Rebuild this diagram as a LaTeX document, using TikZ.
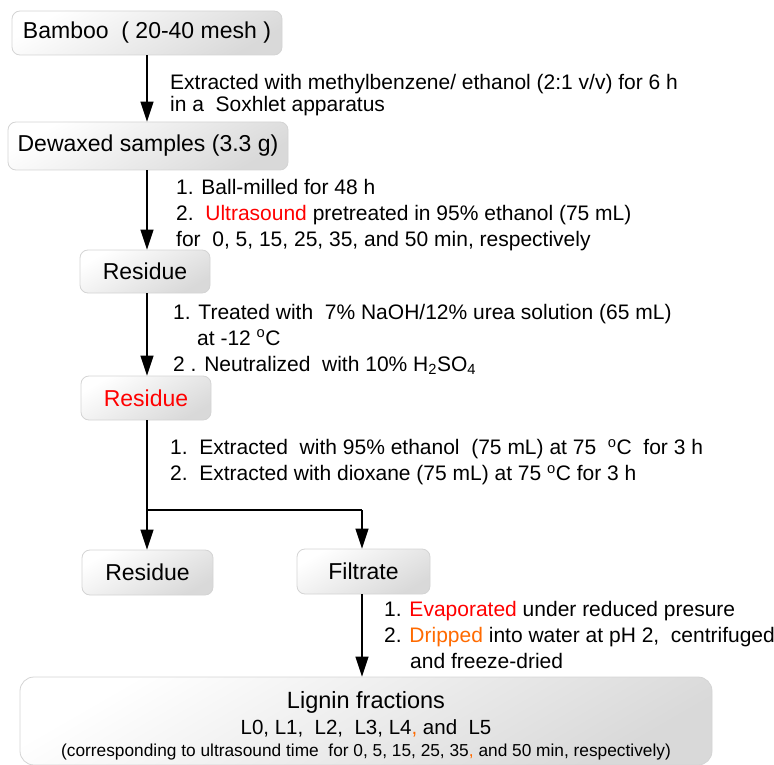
\documentclass[tikz,border=0pt]{standalone}
\usepackage{fontspec}
\setmainfont{Liberation Sans}
\usetikzlibrary{arrows.meta,positioning}
\definecolor{boxline}{HTML}{D4D4D4}
\definecolor{boxdark}{HTML}{D9D9D9}
\definecolor{orng}{HTML}{FF6A00}
\tikzset{
  box/.style={draw=boxline, line width=0.8pt, rounded corners=8pt,
    top color=white, bottom color=boxdark, shading angle=30,
    inner sep=0pt, font=\fontsize{23}{26}\selectfont},
  lbl/.style={anchor=west, align=left, inner sep=0pt, font=\fontsize{21}{26}\selectfont},
  ltxt/.style={anchor=base, inner sep=0pt},
  flow/.style={line width=1.4pt, -{Triangle[length=20pt,width=13pt]}},
  plain/.style={line width=1.4pt}
}
\begin{document}
\begin{tikzpicture}[x=1pt,y=-1pt]
\useasboundingbox (0,0) rectangle (774,765);
\begin{scope}
\clip (0,0) rectangle (774,765);
\node[box, minimum width=270, minimum height=44] (bamboo) at (147,33) {Bamboo\ \ ( 20-40 mesh )};
\node[box, minimum width=280, minimum height=48] (dewax) at (148,146) {Dewaxed samples (3.3 g)};
\node[box, minimum width=130, minimum height=43] (res1) at (145,271.5) {Residue};
\node[box, minimum width=130, minimum height=44, text=red] (res2) at (146,398) {Residue};
\node[box, minimum width=131, minimum height=45] (res3) at (147.5,572.5) {Residue};
\node[box, minimum width=133, minimum height=45] (filt) at (363.5,571.5) {Filtrate};
\node[box, minimum width=692, minimum height=88, rounded corners=14pt] (lignin) at (366,721) {};
\node[ltxt, font=\fontsize{23.5}{25}\selectfont] (lg1) at (366,708.5) {Lignin fractions};
\node[ltxt, font=\fontsize{20.5}{24}\selectfont] (lg2) at (366,734.5) {L0, L1,\ \ L2,\ \ L3, L4{\color{orng},} and\ \ L5};
\node[ltxt, font=\fontsize{17.3}{20}\selectfont] (lg3) at (366,756.5) {(corresponding to ultrasound time\ \ for 0, 5, 15, 25, 35{\color{orng},} and 50 min, respectively)};
\end{scope}

\coordinate (split) at (147,510);
\coordinate (splitR) at (362,510);

\draw[flow] (bamboo.south -| 147,0) -- (dewax.north -| 147,0);
\draw[flow] (dewax.south -| 147,0) -- (res1.north -| 147,0);
\draw[flow] (res1.south -| 147,0) -- (res2.north -| 147,0);
\draw[plain] (res2.south -| split) -- (split) -- (splitR);
\draw[flow] (split) -- (res3.north -| split);
\draw[flow] (splitR) -- (filt.north -| splitR);
\draw[flow] (filt.south -| splitR) -- (lignin.north -| splitR);

\node[lbl, font=\fontsize{21}{22}\selectfont] (l1) at (170,95) {Extracted with methylbenzene/ ethanol (2:1 v/v) for 6 h\\in a\ \ Soxhlet apparatus};
\node[lbl] (l2) at (176,215.5) {1. Ball-milled for 48 h\\2.\ \ {\color{red}Ultrasound} pretreated in 95\% ethanol (75 mL)\\for\ \ 0, 5, 15, 25, 35, and 50 min, respectively};
\node[lbl] (l3) at (173,339) {1. Treated with\ \ 7\% NaOH/12\% urea solution (65 mL)\\\hspace*{24pt}at -12 \textsuperscript{o}C\\2 . Neutralized\ \ with 10\% H\textsubscript{2}SO\textsubscript{4}};
\node[lbl] (l4) at (170,462) {1.\ \ Extracted\ \ with 95\% ethanol\ \ (75 mL) at 75\ \ \textsuperscript{o}C\ \ for 3 h\\2.\ \ Extracted with dioxane (75 mL) at 75 \textsuperscript{o}C for 3 h};
\node[lbl] (l5) at (384,635) {1. {\color{red}Evaporated} under reduced presure\\2. {\color{orng}Dripped} into water at pH 2,\ \ centrifuged\\\hspace*{26pt}and freeze-dried};
\end{tikzpicture}
\end{document}
